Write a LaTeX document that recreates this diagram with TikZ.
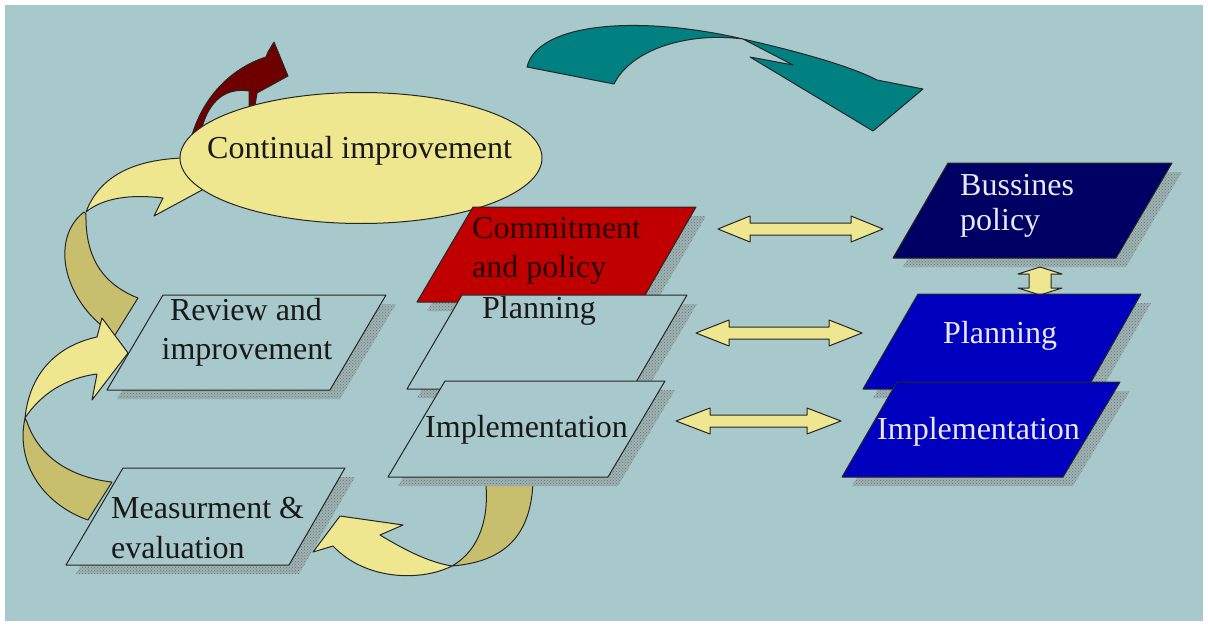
\documentclass[tikz,border=0pt]{standalone}
\usepackage{fontspec}
\setmainfont{Liberation Serif}
\usetikzlibrary{patterns}
\definecolor{bg}{RGB}{167,201,203}
\definecolor{ylw}{RGB}{239,231,143}
\definecolor{khaki}{RGB}{200,191,110}
\definecolor{boxred}{RGB}{192,0,0}
\definecolor{darkred}{RGB}{110,0,0}
\definecolor{navy}{RGB}{0,0,100}
\definecolor{bblue}{RGB}{0,0,190}
\definecolor{tealc}{RGB}{0,128,128}
\definecolor{wtxt}{RGB}{232,232,246}
\definecolor{rtxt}{RGB}{40,0,0}
\newcommand\pbox[5]{%
  \fill[gray!30!bg, shift={(10,9)}] #2 -- #3 -- #4 -- #5 -- cycle;
  \fill[pattern=crosshatch dots, pattern color=gray!90!black, shift={(10,9)}] #2 -- #3 -- #4 -- #5 -- cycle;
  \draw[outl, fill=#1] #2 -- #3 -- #4 -- #5 -- cycle;}
\begin{document}
\begin{tikzpicture}[x=1pt,y=-1pt,line join=round,
  outl/.style={draw=black!85, line width=1pt},
  txt/.style={font=\fontsize{32}{38}\selectfont, inner sep=0pt, text=black!90}]
\useasboundingbox (0,0) rectangle (1208,626);
\fill[white] (0,0) rectangle (1208,626);
\fill[bg] (5,5) rectangle (1203,621);

% teal arrow
\draw[outl, fill=tealc] (527,67) .. controls (538,22) and (640,15) .. (743,39)
   .. controls (690,32) and (632,48) .. (614,84) -- cycle;
\draw[outl, fill=tealc] (743,39) .. controls (800,52) and (850,66) .. (877,80)
   -- (923,89) -- (873,131) -- (750,57) -- (793,65) -- cycle;

% red arrow
\draw[outl, fill=darkred] (190,140) -- (193,132) .. controls (205,95) and (232,68) .. (266,57)
   -- (268,52) -- (274,42) -- (288,76) -- (257,93) -- (254,112) -- (249,112) -- (249,91)
   .. controls (230,88) and (212,96) .. (203,124) -- (200,140) -- cycle;

% upper left yellow arrow
\draw[outl, fill=khaki] (84,212) .. controls (48,240) and (65,305) .. (115,335) -- (138,298)
   .. controls (105,285) and (85,260) .. (86,214) -- cycle;
\draw[outl, fill=ylw] (86,212) .. controls (100,175) and (135,160) .. (182,158) -- (200,160)
   -- (215,183) -- (154,216) -- (163,198) .. controls (130,194) and (103,198) .. (86,212) -- cycle;

% ellipse
\draw[outl, fill=ylw] (361,158) ellipse [x radius=181, y radius=65.5];
\node[txt, anchor=base west] (ci) at (207,158) {Continual improvement};

% left column boxes
\pbox{boxred}{(473,207)}{(696,207)}{(641,302)}{(417,302)}
\pbox{bg}{(462,295)}{(687,295)}{(632,389)}{(407,389)}

% bottom arrow (khaki part under implementation shadow)
\draw[outl, fill=khaki] (484,470) .. controls (492,515) and (480,550) .. (452,566)
   .. controls (500,562) and (535,540) .. (533,470) -- cycle;

\pbox{bg}{(445,381)}{(665,381)}{(608,477)}{(388,477)}
\draw[outl, fill=ylw] (313,552) -- (340,516) -- (403,525) -- (380,535)
   .. controls (405,550) and (428,562) .. (452,566)
   .. controls (420,582) and (365,580) .. (333,546) -- cycle;

\pbox{bg}{(163,295)}{(386,295)}{(330,390)}{(107,390)}
\pbox{bg}{(123,468)}{(345,468)}{(289,565)}{(66,565)}

% lower left arrow
\draw[outl, fill=khaki] (25,418) .. controls (15,465) and (45,505) .. (88,520) -- (112,482)
   .. controls (75,478) and (40,460) .. (27,422) -- cycle;
\draw[outl, fill=ylw] (25,418) .. controls (30,370) and (60,345) .. (97,337) -- (102,318)
   -- (128,353) -- (92,400) -- (97,374) .. controls (65,378) and (40,395) .. (25,418) -- cycle;

% right column
\pbox{navy}{(948,163)}{(1172,163)}{(1116,258)}{(893,258)}
\draw[outl, fill=ylw] (1040,267) -- (1062,274) -- (1051,274) -- (1051,288) -- (1062,288)
   -- (1040,295) -- (1018,288) -- (1029,288) -- (1029,274) -- (1018,274) -- cycle;
\pbox{bblue}{(918,294)}{(1141,294)}{(1087,389)}{(863,389)}
\pbox{bblue}{(897,382)}{(1120,382)}{(1063,477)}{(842,477)}

% double arrows
\draw[outl, fill=ylw] (718,229) -- ++(32,-13) -- ++(0,7) -- ++(101,0) -- ++(0,-7) -- ++(32,13)
   -- ++(-32,13) -- ++(0,-7) -- ++(-101,0) -- ++(0,7) -- cycle;
\draw[outl, fill=ylw] (696,333) -- ++(33,-13) -- ++(0,7) -- ++(100,0) -- ++(0,-7) -- ++(33,13)
   -- ++(-33,13) -- ++(0,-7) -- ++(-100,0) -- ++(0,7) -- cycle;
\draw[outl, fill=ylw] (676,421) -- ++(34,-13) -- ++(0,7) -- ++(97,0) -- ++(0,-7) -- ++(34,13)
   -- ++(-34,13) -- ++(0,-7) -- ++(-97,0) -- ++(0,7) -- cycle;

% texts
\node[txt, anchor=base west, text=rtxt] (com1) at (472,238) {Commitment};
\node[txt, anchor=base west, text=rtxt] (com2) at (472,277) {and policy};
\node[txt, anchor=base west] (plan) at (482,318) {Planning};
\node[txt, anchor=base west] (impl) at (425,437) {Implementation};
\node[txt, anchor=base] (rev1) at (246,320) {Review and};
\node[txt, anchor=base] (rev2) at (247,359) {improvement};
\node[txt, anchor=base west] (mea1) at (111,518) {Measurment \&};
\node[txt, anchor=base west] (mea2) at (111,558) {evaluation};
\node[txt, anchor=base west, text=wtxt] (bus1) at (960,195) {Bussines};
\node[txt, anchor=base west, text=wtxt] (bus2) at (960,230) {policy};
\node[txt, anchor=base west, text=wtxt] (rplan) at (943,343) {Planning};
\node[txt, anchor=base west, text=wtxt] (rimpl) at (877,439) {Implementation};
\end{tikzpicture}
\end{document}
